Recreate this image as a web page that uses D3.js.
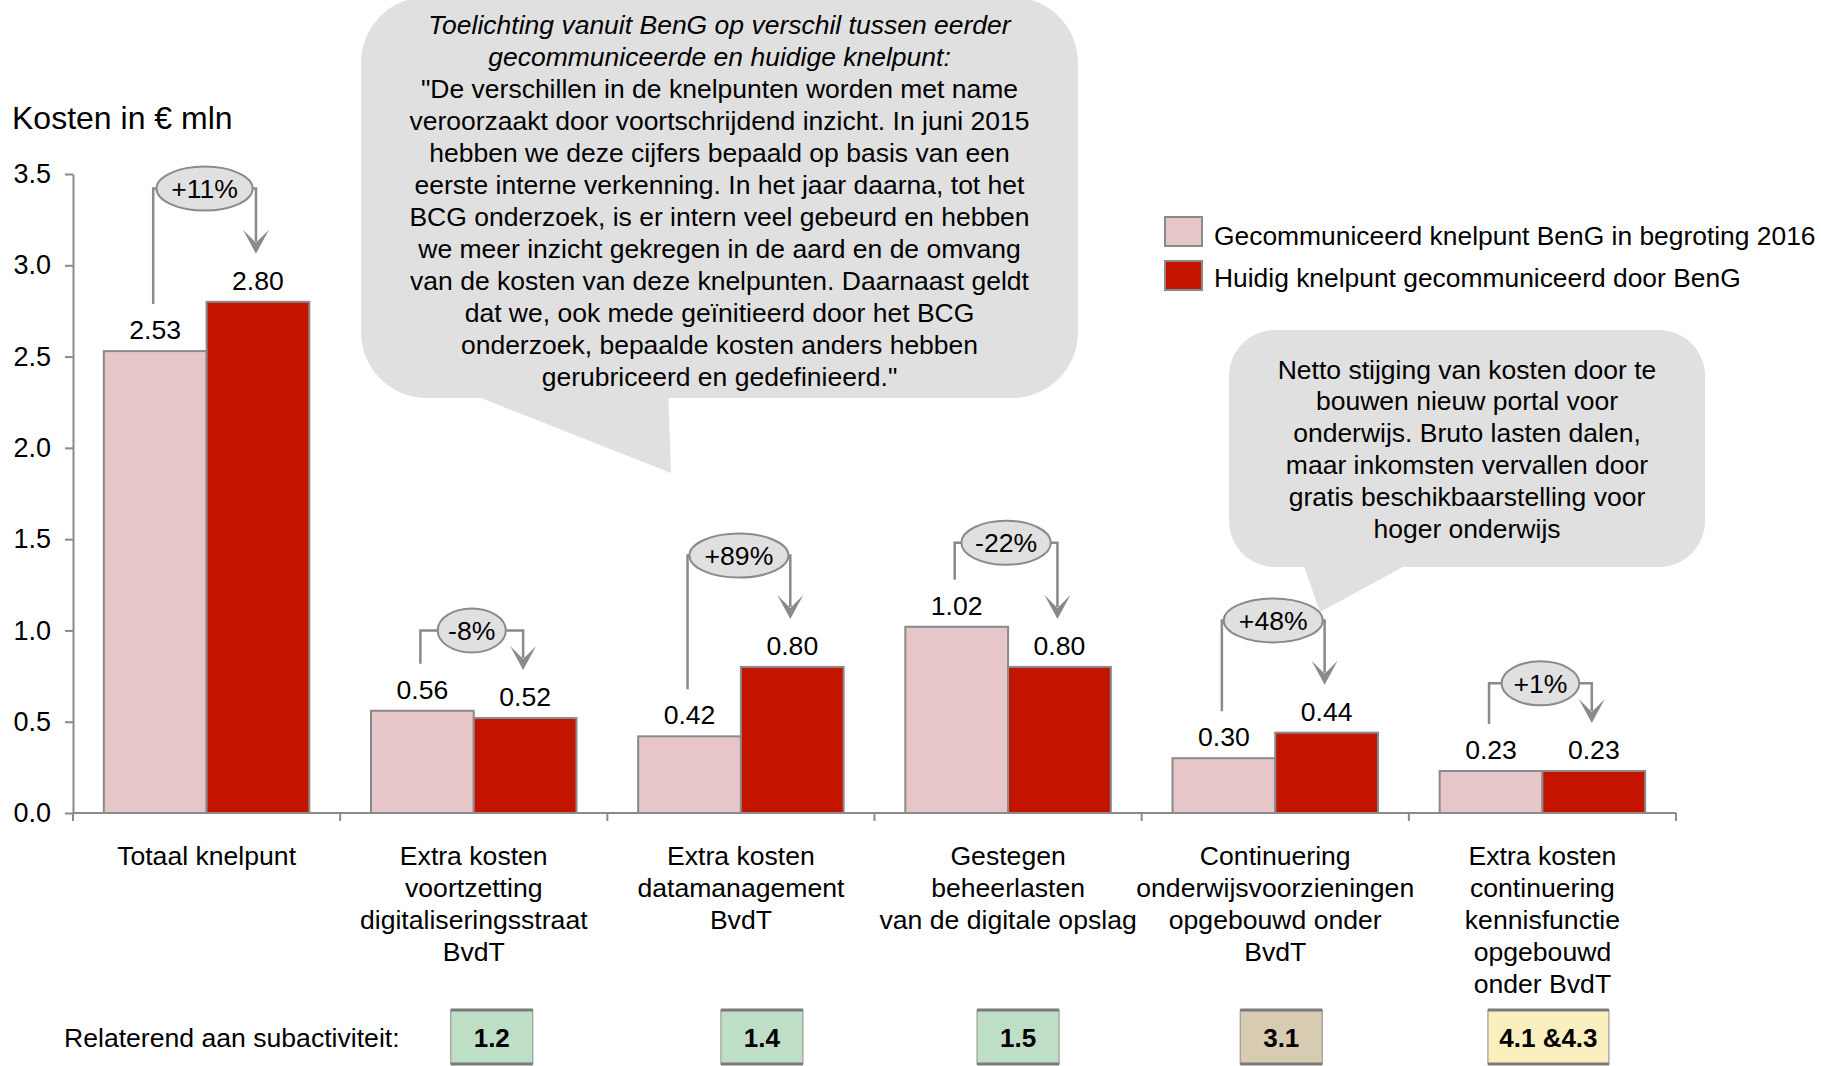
<!DOCTYPE html>
<html><head><meta charset="utf-8">
<script src="https://cdn.jsdelivr.net/npm/d3@7"></script>
<style>
body{margin:0;background:#fff}
svg{display:block}
text{font-family:"Liberation Sans",Arial,Helvetica,sans-serif;fill:#000}
</style>
</head><body>
<svg id="c" width="1821" height="1066"></svg>
<script>
// ---------- DATA ----------
const categories = [
  ["Totaal knelpunt"],
  ["Extra kosten","voortzetting","digitaliseringsstraat","BvdT"],
  ["Extra kosten","datamanagement","BvdT"],
  ["Gestegen","beheerlasten","van de digitale opslag"],
  ["Continuering","onderwijsvoorzieningen","opgebouwd onder","BvdT"],
  ["Extra kosten","continuering","kennisfunctie","opgebouwd","onder BvdT"]
];
const seriesNames = ["Gecommuniceerd knelpunt BenG in begroting 2016","Huidig knelpunt gecommuniceerd door BenG"];
const gecommuniceerd = [2.53, 0.56, 0.42, 1.02, 0.30, 0.23];
const huidig = [2.80, 0.52, 0.80, 0.80, 0.44, 0.23];
const valueLabels1 = ["2.53","0.56","0.42","1.02","0.30","0.23"];
const valueLabels2 = ["2.80","0.52","0.80","0.80","0.44","0.23"];
const changeLabels = ["+11%","-8%","+89%","-22%","+48%","+1%"];
const changeLevels = [3.42, 1.0, 1.41, 1.48, 1.055, 0.71]; // bracket level in € mln
const yTicks = [0, 0.5, 1.0, 1.5, 2.0, 2.5, 3.0, 3.5];
const yTickLabels = ["0.0","0.5","1.0","1.5","2.0","2.5","3.0","3.5"];
const subactivityLabel = "Relaterend aan subactiviteit:";
const subactivities = [null, "1.2", "1.4", "1.5", "3.1", "4.1 &4.3"];
const subactivityGroup = [null, "1", "1", "1", "3", "4"];
const title = "Kosten in € mln";
const bubble1Lines = [
  "Toelichting vanuit BenG op verschil tussen eerder",
  "gecommuniceerde en huidige knelpunt:",
  "\"De verschillen in de knelpunten worden met name",
  "veroorzaakt door voortschrijdend inzicht. In juni 2015",
  "hebben we deze cijfers bepaald op basis van een",
  "eerste interne verkenning. In het jaar daarna, tot het",
  "BCG onderzoek, is er intern veel gebeurd en hebben",
  "we meer inzicht gekregen in de aard en de omvang",
  "van de kosten van deze knelpunten. Daarnaast geldt",
  "dat we, ook mede geïnitieerd door het BCG",
  "onderzoek, bepaalde kosten anders hebben",
  "gerubriceerd en gedefinieerd.\""
];
const bubble1Italic = 2;
const bubble2Lines = [
  "Netto stijging van kosten door te",
  "bouwen nieuw portal voor",
  "onderwijs. Bruto lasten dalen,",
  "maar inkomsten vervallen door",
  "gratis beschikbaarstelling voor",
  "hoger onderwijs"
];

// ---------- STYLE / LAYOUT ----------
const C = {pink:"#e6c6c8", red:"#c31400", grey:"#8a8a8a", bubble:"#e0e0e0"};
const boxFill = {"1":"#bedfc5","3":"#d7cbb2","4":"#faf0bf"};
const boxNudge = [0, 18, 21, 10, 6, 6];
const FS = 26.6;

const svg = d3.select("#c");
const x0 = 73, x1 = 1676, yBase = 813, yTop = 174;

const x = d3.scaleBand().domain(d3.range(categories.length)).range([x0, x1]).padding(0);
const xs = d3.scaleBand().domain([0,1]).range([0, x.bandwidth()]).paddingInner(0).paddingOuter(0.3);
const y = d3.scaleLinear().domain([0, 3.5]).range([yBase, yTop]);

// Bubbles (behind everything)
function bubble(g, rx, ry, w, h, r, tail) {
  g.append("polygon").attr("points", tail.map(p => p.join(",")).join(" ")).attr("fill", C.bubble);
  g.append("rect").attr("x", rx).attr("y", ry).attr("width", w).attr("height", h).attr("rx", r).attr("fill", C.bubble);
}
const b1 = svg.append("g");
bubble(b1, 361, -3, 717, 401, 66, [[448,385],[668,385],[671,473]]);
b1.selectAll("text").data(bubble1Lines).join("text")
  .attr("x", 719.5).attr("y", (d,i) => 34 + i*32)
  .attr("text-anchor","middle").attr("font-size", 26.5)
  .attr("font-style", (d,i) => i < bubble1Italic ? "italic" : "normal")
  .text(d => d);

const b2 = svg.append("g");
bubble(b2, 1229, 330, 476, 237, 46, [[1300,555],[1425,555],[1320,612]]);
b2.selectAll("text").data(bubble2Lines).join("text")
  .attr("x", 1467).attr("y", (d,i) => 378.5 + i*31.9)
  .attr("text-anchor","middle").attr("font-size", 26.5)
  .text(d => d);

// Title
svg.append("text").attr("x", 12).attr("y", 129).attr("font-size", 32).text(title);

// Y axis
const ya = svg.append("g").attr("transform", `translate(${x0},0)`)
  .call(d3.axisLeft(y).tickValues(yTicks).tickFormat((d,i) => yTickLabels[i]).tickSize(8).tickSizeOuter(0).tickPadding(14));
ya.select(".domain").attr("stroke", C.grey).attr("stroke-width", 2);
ya.selectAll(".tick line").attr("stroke", C.grey).attr("stroke-width", 2);
ya.selectAll(".tick text").attr("font-size", 27).attr("font-family", '"Liberation Sans",Arial,sans-serif').attr("fill","#000");

// Bars
const groups = svg.append("g").selectAll("g").data(categories).join("g")
  .attr("transform", (d,i) => `translate(${x(i)},0)`);
const series = [gecommuniceerd, huidig];
const seriesLabels = [valueLabels1, valueLabels2];
const fills = [C.pink, C.red];
groups.each(function(d, i) {
  const g = d3.select(this);
  [0,1].forEach(s => {
    const v = series[s][i];
    g.append("rect").attr("x", xs(s)).attr("y", y(v)).attr("width", xs.bandwidth()).attr("height", y(0) - y(v))
      .attr("fill", fills[s]).attr("stroke", C.grey).attr("stroke-width", 2);
    g.append("text").attr("x", xs(s) + xs.bandwidth()/2).attr("y", y(v) - 12)
      .attr("text-anchor","middle").attr("font-size", FS).text(seriesLabels[s][i]);
  });
});

// X axis
const xa = svg.append("g");
xa.append("line").attr("x1", x0).attr("x2", x1).attr("y1", yBase).attr("y2", yBase).attr("stroke", C.grey).attr("stroke-width", 2);
const bounds = d3.range(categories.length).map(i => x(i)).concat([x1]);
xa.selectAll(".xt").data(bounds).join("line").attr("class","xt")
  .attr("x1", d => d).attr("x2", d => d).attr("y1", yBase).attr("y2", yBase + 8)
  .attr("stroke", C.grey).attr("stroke-width", 2);
const cl = svg.append("g").selectAll("text").data(categories).join("text")
  .attr("text-anchor","middle").attr("font-size", FS)
  .attr("transform", (d,i) => `translate(${x(i) + x.bandwidth()/2},0)`);
cl.each(function(lines) {
  d3.select(this).selectAll("tspan").data(lines).join("tspan")
    .attr("x", 0).attr("y", (d,j) => 864.5 + j*32.2).text(d => d);
});

// Change annotations
const ann = svg.append("g");
categories.forEach((c, i) => {
  const lx = x(i) + xs(0) + xs.bandwidth()/2 - 2;
  const rx = x(i) + xs(1) + xs.bandwidth()/2 - 2;
  const by = y(changeLevels[i]);
  const lb = y(gecommuniceerd[i]) - 47;
  const tip = y(huidig[i]) - 48;
  ann.append("path").attr("d", `M${lx},${lb} V${by} H${rx} V${tip - 12}`)
    .attr("fill","none").attr("stroke", C.grey).attr("stroke-width", 2.5);
  ann.append("path").attr("d", `M${rx-13},${tip-24} L${rx},${tip} L${rx+13},${tip-24} L${rx},${tip-11} Z`)
    .attr("fill", C.grey);
  const cx = (lx + rx) / 2;
  const el = ann.append("ellipse").attr("cx", cx).attr("cy", by).attr("ry", 22)
    .attr("fill", C.bubble).attr("stroke", C.grey).attr("stroke-width", 2);
  const t = ann.append("text").attr("x", cx).attr("y", by + 9.5).attr("text-anchor","middle")
    .attr("font-size", FS).text(changeLabels[i]);
  const w = t.node().getComputedTextLength();
  el.attr("rx", w * 0.72);
});

// Legend
const lg = svg.append("g");
seriesNames.forEach((n, i) => {
  lg.append("rect").attr("x", 1165).attr("y", 217 + i*44).attr("width", 37).attr("height", 29)
    .attr("fill", fills[i]).attr("stroke", C.grey).attr("stroke-width", 2);
  lg.append("text").attr("x", 1214).attr("y", 245 + i*42).attr("font-size", 26.4).text(n);
});

// Subactivity row
svg.append("text").attr("x", 64).attr("y", 1047).attr("font-size", FS).text(subactivityLabel);
const bx = svg.append("g");
subactivities.forEach((s, i) => {
  if (!s) return;
  const cx = x(i) + x.bandwidth()/2 + boxNudge[i];
  const w = s.length > 3 ? 121 : 82;
  const top = 1010, bot = 1064;
  bx.append("rect").attr("x", cx - w/2).attr("y", top).attr("width", w).attr("height", bot - top)
    .attr("fill", boxFill[subactivityGroup[i]]).attr("stroke", "#9a9a9a").attr("stroke-width", 1.2);
  bx.append("line").attr("x1", cx - w/2).attr("x2", cx + w/2).attr("y1", top).attr("y2", top).attr("stroke", "#7a7a7a").attr("stroke-width", 3);
  bx.append("line").attr("x1", cx - w/2).attr("x2", cx + w/2).attr("y1", bot).attr("y2", bot).attr("stroke", "#7a7a7a").attr("stroke-width", 3);
  bx.append("text").attr("x", cx).attr("y", 1047).attr("text-anchor","middle").attr("font-size", 26)
    .attr("font-weight","bold").text(s);
});
</script>
</body></html>
